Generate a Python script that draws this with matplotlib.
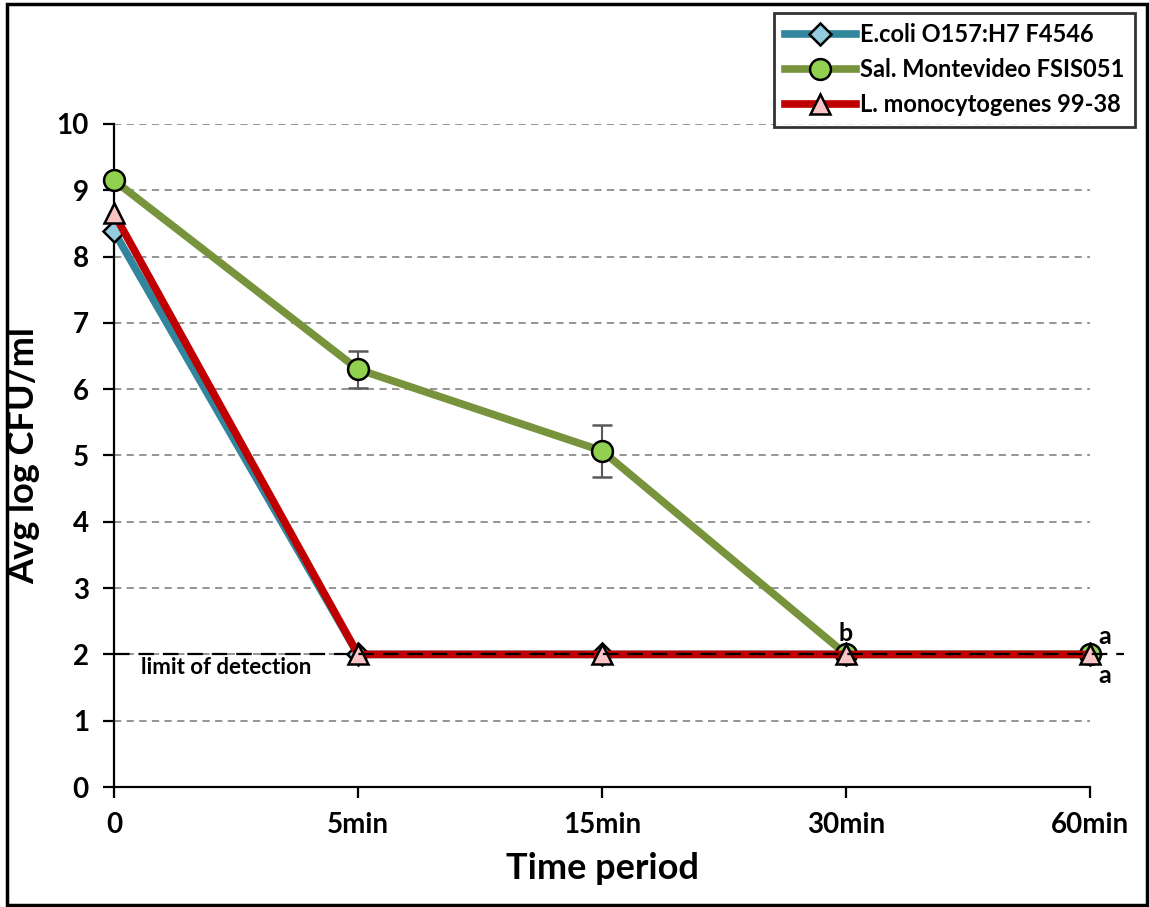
import numpy as np
import matplotlib.pyplot as plt
from matplotlib.patches import Rectangle

# data
time_labels = ['0', '5min', '15min', '30min', '60min']
ecoli = [8.38, 2.0, 2.0, 2.0, 2.0]
salmonella = [9.15, 6.30, 5.07, 2.0, 2.0]
sal_err = [0.0, 0.28, 0.39, 0.0, 0.0]
listeria = [8.65, 2.0, 2.0, 2.0, 2.0]
detection_limit = 2.0

plt.rcParams['font.family'] = ['Lato', 'DejaVu Sans']
plt.rcParams['font.weight'] = 'bold'

fig = plt.figure(figsize=(11.49, 9.07), dpi=100)
ax = fig.add_axes([0.0992, 0.1323, 0.8495, 0.7310])
x = np.arange(len(time_labels))

# gridlines
for yv in range(1, 11):
    ax.axhline(yv, color='#8c8c8c', lw=1.3, ls=(0, (4, 3)), zorder=0)

h1, = ax.plot(x, ecoli, color='#31859C', lw=5.5, marker='D', ms=11,
              mfc='#93CDDD', mec='black', mew=1.8, zorder=3, clip_on=False)
eb = ax.errorbar(x, salmonella, yerr=sal_err, color='#77933C', lw=5.5,
                 marker='o', ms=15, mfc='#92D050', mec='black', mew=1.8,
                 ecolor='#595959', elinewidth=1.5, capsize=7, capthick=1.5,
                 zorder=3)
h2 = eb[0]
h2.set_clip_on(False)
h3, = ax.plot(x, listeria, color='#C00000', lw=5.5, marker='^', ms=15,
              mfc='#F8C4C4', mec='black', mew=1.8, zorder=4, clip_on=False)

# limit of detection line, runs a bit past the last category
ax.plot([0, 4.14], [detection_limit, detection_limit], color='black',
        lw=1.6, ls=(0, (7, 4)), zorder=5, clip_on=False)
ax.text(0.11, 1.8, 'limit of detection', fontsize=16, ha='left', va='center')

ax.text(3, 2.32, 'b', fontsize=18, ha='center', va='center')
ax.text(4.06, 2.27, 'a', fontsize=18, ha='center', va='center')
ax.text(4.06, 1.68, 'a', fontsize=18, ha='center', va='center')

ax.set_xlim(0, 4)
ax.set_ylim(0, 10)
ax.set_xticks(x)
ax.set_xticklabels(time_labels)
ax.set_yticks(range(0, 11))
ax.tick_params(axis='both', labelsize=20, direction='out', length=8,
               width=1.6, pad=10)
for lbl in ax.get_xticklabels() + ax.get_yticklabels():
    lbl.set_fontweight('bold')

for s in ['top', 'right']:
    ax.spines[s].set_visible(False)
ax.spines['left'].set_linewidth(1.6)
ax.spines['bottom'].set_linewidth(1.6)

ax.set_xlabel('Time period', fontsize=26, fontweight='bold', labelpad=10)
ax.set_ylabel('Avg log CFU/ml', fontsize=26, fontweight='bold', labelpad=12)

leg = fig.legend(handles=[h1, h2, h3],
                 labels=['E.coli O157:H7 F4546', 'Sal. Montevideo FSIS051',
                         'L. monocytogenes 99-38'],
                 loc='upper right', bbox_to_anchor=(0.9985, 0.999),
                 fontsize=17, frameon=True, fancybox=False,
                 edgecolor='black', handlelength=3.0, borderpad=0.45,
                 labelspacing=0.5, handletextpad=0.2)
leg.get_frame().set_linewidth(2)
for t in leg.get_texts():
    t.set_fontweight('bold')

fig.patches.append(Rectangle((0.006, 0.002), 0.992, 0.994,
                             transform=fig.transFigure, fill=False,
                             ec='black', lw=2.5))

fig.savefig('out.png', dpi=100)
